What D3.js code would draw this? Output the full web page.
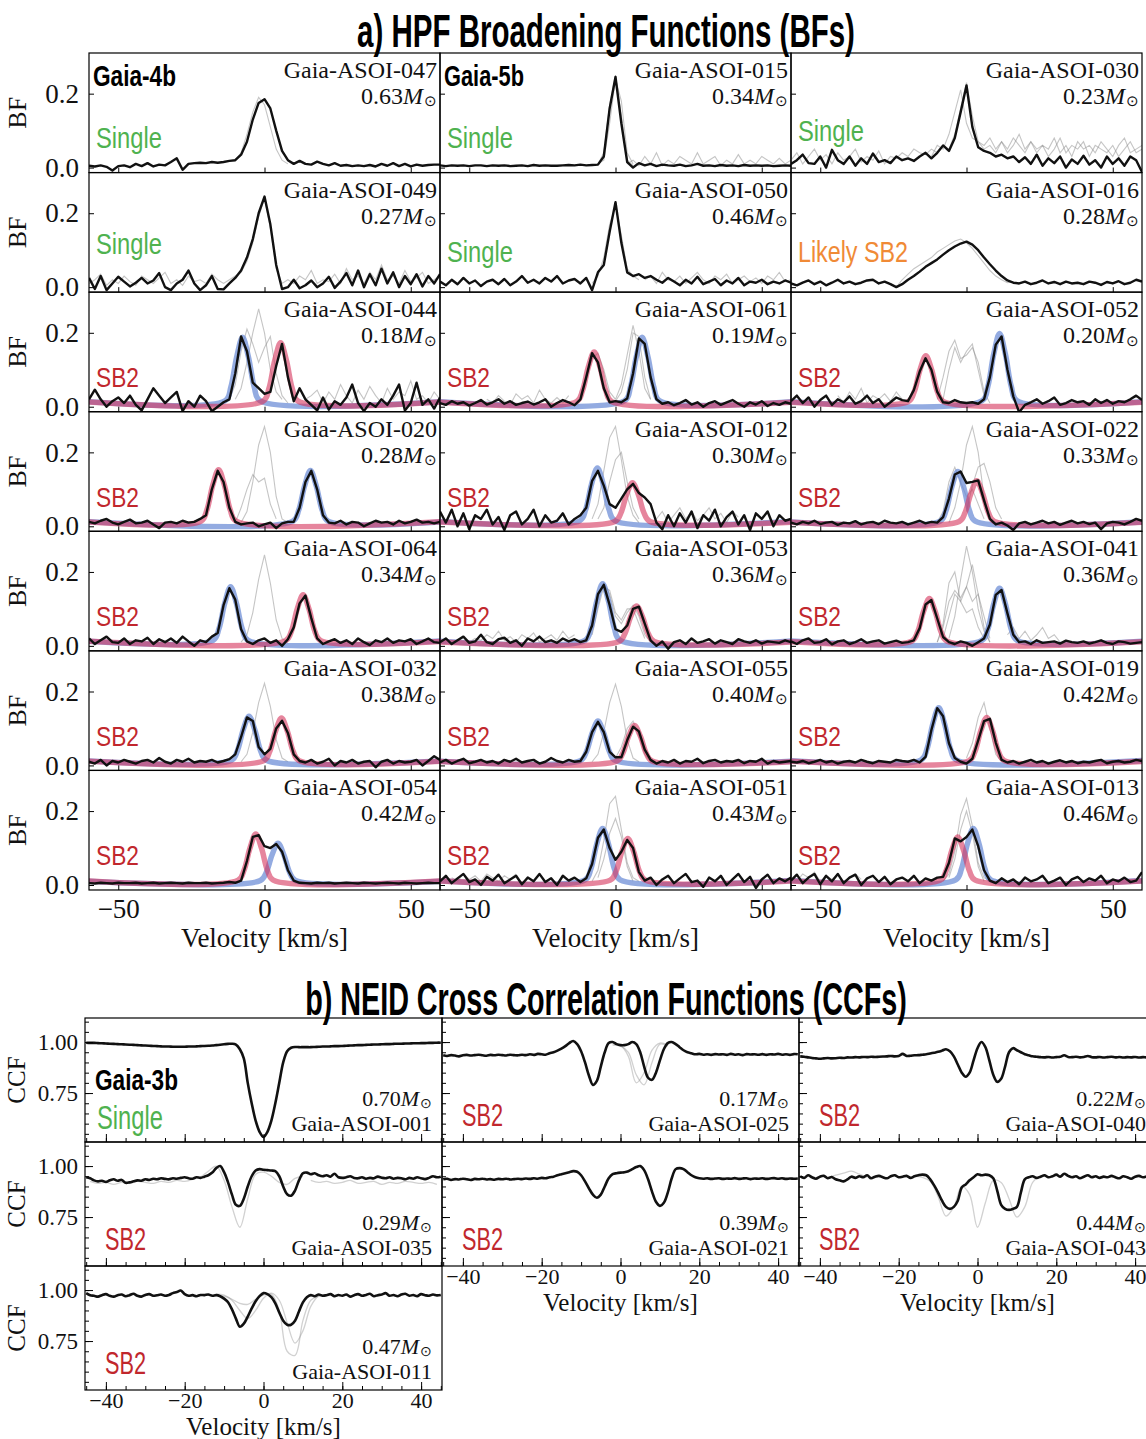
<!DOCTYPE html>
<html>
<head>
<meta charset="utf-8">
<script src="https://cdn.jsdelivr.net/npm/d3@7"></script>
<style>
  html, body { margin: 0; padding: 0; background: #fff; }
  svg { display: block; }
</style>
</head>
<body>
<svg id="fig" width="1146" height="1439"></svg>
<script>
// ===================== a) HPF broadening functions =====================
// panels in reading order (3 columns x 7 rows)
const bfTargets = [
  "Gaia-ASOI-047", "Gaia-ASOI-015", "Gaia-ASOI-030",
  "Gaia-ASOI-049", "Gaia-ASOI-050", "Gaia-ASOI-016",
  "Gaia-ASOI-044", "Gaia-ASOI-061", "Gaia-ASOI-052",
  "Gaia-ASOI-020", "Gaia-ASOI-012", "Gaia-ASOI-022",
  "Gaia-ASOI-064", "Gaia-ASOI-053", "Gaia-ASOI-041",
  "Gaia-ASOI-032", "Gaia-ASOI-055", "Gaia-ASOI-019",
  "Gaia-ASOI-054", "Gaia-ASOI-051", "Gaia-ASOI-013"
];
const bfMasses = [
  "0.63", "0.34", "0.23",
  "0.27", "0.46", "0.28",
  "0.18", "0.19", "0.20",
  "0.28", "0.30", "0.33",
  "0.34", "0.36", "0.36",
  "0.38", "0.40", "0.42",
  "0.42", "0.43", "0.46"
];
const bfClasses = [
  "Single", "Single", "Single",
  "Single", "Single", "Likely SB2",
  "SB2", "SB2", "SB2",
  "SB2", "SB2", "SB2",
  "SB2", "SB2", "SB2",
  "SB2", "SB2", "SB2",
  "SB2", "SB2", "SB2"
];
const bfHosts = ["Gaia-4b", "Gaia-5b", "", "", "", "", "", "", "", "", "", "", "", "", "", "", "", "", "", "", ""];

// velocity sampling of the combined BFs (km/s)
const bfVelocityStart = -60;
const bfVelocityStep = 2;

// combined broadening function of each target, one value per velocity sample
const bfObserved = [
  [.005,.003,.006,.002,-.008,.004,.006,.001,.010,.004, .012,.003,.008,.006,.015,.025,-.006,.010,.012,.013,
   .012,.015,.013,.015,.018,.020,.035,.070,.130,.175, .185,.160,.100,.045,.020,.010,.018,.010,.008,.016,
   .010,.006,.012,.005,.007,.004,.006,.004,.007,.003, .010,.005,.012,.004,.010,.003,.008,.005,.007,.008, .008],
  [.006,.004,.006,.005,.006,.004,.006,.006,.004,.006, .005,.006,.004,.005,.006,.004,.007,.005,.006,.005,
   .005,.006,.007,.006,.008,.006,.007,.008,.030,.160, .245,.120,.015,.000,.012,.006,.010,.004,.008,.006,
   .005,.008,.004,.006,.010,.005,.006,.004,.007,.005, .006,.004,.007,.005,.006,.005,.006,.004,.005,.006, .005],
  [.010,.020,.035,.012,.010,.030,.000,.048,.020,.010, .030,.005,.025,.010,.038,.015,.020,.012,.030,.020,
   .025,.018,.030,.040,.025,.040,.060,.045,.080,.150, .222,.110,.055,.045,.040,.030,.035,.025,.030,.015,
   .028,.010,.035,.005,.025,.012,.030,.000,.022,.010, .032,.008,.020,.000,.030,.010,.025,.005,.030,.020, -.012],
  [.025,-.005,.030,-.008,.010,.028,.015,.002,.012,.025, .010,.018,.038,.000,-.008,.010,.020,.045,.010,-.008,
   .005,.030,-.005,-.006,.010,.025,.045,.080,.130,.200, .245,.170,.060,-.005,.000,.020,-.003,.005,.018,.000,
   .010,.028,-.002,.015,.038,.005,.045,.000,.035,.005, .050,.010,.040,.000,.030,.008,.035,.002,.030,.010, .035],
  [.015,.005,.020,.008,.025,.010,.018,.003,.015,.020, .008,.022,.005,.015,.030,.012,.020,.010,.025,.015,
   .030,.010,.018,.022,.010,.025,-.008,.040,.060,.150, .230,.120,.040,.030,.035,.025,.030,.020,.012,.025,
   .015,.005,.020,.010,.028,.008,.015,.022,.005,.018, .010,.025,.005,.015,.012,.020,.008,.015,.010,.018, .012],
  [.010,.005,.012,.018,.008,.015,.005,.012,.020,.010, .015,.008,.012,.018,.020,.010,.015,.008,.000,.008,
   .020,.030,.042,.055,.065,.075,.088,.100,.110,.118, .123,.115,.100,.080,.062,.045,.030,.018,.012,.010,
   .015,.008,.012,.018,.010,.014,.008,.015,.010,.012, .008,.015,.012,.006,.014,.010,.016,.008,.012,.020, .015],
  [.020,.046,.020,.000,.015,.025,.010,.030,.005,-.010, .020,.050,.030,.010,.025,.040,-.012,.015,.000,.030,
   .015,-.012,.000,.012,.020,.090,.190,.150,.065,.050, .035,.040,.110,.170,.080,.015,.050,.020,.005,-.010,
   .025,-.008,.015,.005,.025,.060,.010,-.012,.010,.000, .020,.005,.030,.060,-.010,.010,.065,.005,.020,-.005, .025],
  [.010,.005,.015,.008,.012,.003,.010,.018,.006,.012, .020,.008,.015,.005,.010,.014,.006,.012,.020,.000,
   .010,.018,.012,.004,.020,.080,.145,.120,.050,.012, .015,.012,.022,.090,.185,.170,.080,.020,.008,.012,
   .004,.010,.018,.006,.012,.000,.010,.015,.005,.012, .018,.008,.000,.012,.006,.015,.002,.010,.005,.012, .008],
  [.015,.030,.010,.025,.000,.018,.030,.005,.020,.012, .028,.008,.015,.030,.010,.020,.000,.012,.025,.018,
   .015,.045,.095,.131,.100,.040,.012,.010,.018,.012, .010,.012,.008,.020,.080,.168,.190,.100,.028,-.015,
   .005,.012,.020,.008,.015,.025,.005,.010,.018,.012, .015,.005,.020,.010,.018,.008,.015,.012,.020,.030, .018],
  [.012,.008,.015,.020,.010,.005,.012,.018,.008,.010, .015,.005,-.005,.010,.012,.008,.015,.010,.012,.020,
   .030,.100,.150,.120,.050,.012,.005,.008,.010,.000, .005,.010,-.005,.008,.012,.012,.050,.120,.150,.100,
   .030,.010,.008,.015,.005,.012,.010,.000,.008,.015, .010,.012,.005,.015,.008,.012,.018,.010,.012,.008, .012],
  [.040,.010,.045,.000,.035,-.008,.030,.020,.045,.005, .025,-.010,.030,.040,.005,.020,.045,.000,.030,.010,
   .015,.035,.005,.020,.030,.050,.123,.150,.110,.060, .050,.075,.100,.115,.090,.078,.060,.010,-.008,.030,
   .000,.035,.010,.040,-.005,.030,.015,.045,.000,.025, .040,.005,.030,-.010,.035,.020,.040,.000,.030,.015, .020],
  [.010,.005,.012,.008,.015,.006,.010,.012,.004,.010, .008,.014,.005,.010,.012,.006,.015,.010,.008,.012,
   .005,.010,.015,.008,.012,.010,.025,.075,.140,.148, .117,.120,.124,.070,.020,.005,.010,.002,-.010,.008,
   .012,.005,.010,.015,.008,.012,.004,.010,.015,.008, .012,.006,.010,-.008,.008,.012,.010,.005,.012,.020, .015],
  [.020,.005,.015,.025,.010,.008,.020,.005,.015,.012, .022,.005,.018,.010,.020,.008,.025,.012,.000,.015,
   .010,.025,.035,.110,.156,.125,.045,.012,.005,.015, .020,.008,.015,.000,.018,.050,.115,.136,.075,.020,
   .005,.012,.018,.008,.015,.005,.020,.010,.002,.015, .010,.020,.008,.015,.012,.018,.005,.012,.020,.010, .008],
  [.010,.020,.005,.015,.025,.008,.012,.030,.010,.005, .018,.022,.008,.015,.000,.020,.012,.025,.010,.015,
   .008,.020,.012,.018,.010,.015,.055,.140,.165,.110, .045,.038,.055,.100,.106,.060,.015,.000,.012,-.008,
   .010,.015,.005,.020,.008,.012,.018,.006,.015,.010, .005,.018,.012,.008,.015,.006,.012,.010,.008,.015, .010],
  [.012,.005,.015,.020,.008,.010,.018,.004,.012,.015, .005,.010,.018,.008,.012,.015,.006,.010,.014,.008,
   .010,.015,.048,.112,.124,.074,.024,.010,.005,.012, .008,.000,.010,.020,.058,.138,.151,.088,.030,.010,
   .012,.005,.015,.008,.010,.012,.006,.014,.010,.008, .012,.006,.010,.015,.008,.005,.012,.010,.006,.008, .010],
  [.010,.005,.015,.000,.012,.008,.015,.010,.005,.012, .015,.008,.020,.010,.005,.015,.010,.018,.008,.012,
   .010,.015,.008,.012,.017,.030,.077,.130,.120,.050, .030,.045,.100,.121,.088,.030,.012,.008,.015,.005,
   .010,.018,.000,.012,.008,.015,.005,.010,.012,-.005, .010,.015,.005,.012,.008,.010,.015,.000,.012,.025, .015],
  [.008,.015,.005,.012,.018,.006,.010,.015,.008,.012, .005,.015,.010,.018,.008,.012,.015,.005,.010,.020,
   .012,.008,.015,.010,.012,.037,.090,.118,.090,.037, .022,.022,.068,.105,.092,.043,.015,.005,.012,.008,
   .015,.005,.012,.010,.018,.006,.012,.015,.008,.012, .010,.015,.006,.012,.010,.018,.005,.012,.008,.010, .012],
  [.010,.008,.012,.006,.010,.015,.008,.012,.005,.010, .012,.008,.015,.010,.006,.012,.010,.008,.015,.012,
   .010,.015,.008,.023,.096,.155,.133,.060,.020,.010, .005,.018,.068,.120,.126,.062,.015,.008,.012,.005,
   .010,.015,.008,.012,.005,.010,.014,.008,.012,.006, .010,.008,.012,.015,.006,.010,.012,.008,.010,.015, .012],
  [.005,.004,.006,.005,.004,.006,.005,.005,.006,.004, .005,.006,.004,.005,.006,.005,.004,.006,.005,.005,
   .006,.004,.005,.006,.008,.006,.012,.065,.130,.135, .105,.100,.111,.090,.040,.012,.006,.005,.004,.006,
   .005,.006,.004,.005,.006,.005,.004,.006,.005,.004, .005,.006,.005,.004,.006,.005,.004,.005,.006,.005, .005],
  [.010,.025,.005,.018,.030,.008,.015,.000,.022,.012, .028,.005,.015,.025,.002,.020,.010,.030,.008,.018,
   .000,.025,.012,.020,.008,.018,.057,.128,.150,.100, .068,.090,.122,.100,.035,.012,.020,.000,.015,.025,
   .005,.018,.030,.008,.012,-.005,.020,.010,.025,.000, .015,.030,.008,.022,-.008,.015,.028,.005,.018,.010, .020],
  [.012,.028,.005,.020,.030,.002,.025,.010,.030,.005, .020,.028,.000,.018,.025,.008,.022,.002,.015,.020,
   .010,.025,.005,.018,.012,.020,.022,.060,.126,.118, .130,.150,.105,.040,.012,.005,.018,.008,.015,.002,
   .020,.010,.015,.025,.005,.012,.020,.000,.015,.022, .008,.018,.012,.025,.005,.015,.010,.020,.008,.012, .035]
];

// fitted components: centre c (km/s), profile sampled every 2 km/s from c-6 to c+6
const bfFitBlue = [
  null, null, null, null, null, null,
  { c: -7.5, y: [.016,.053,.135,.188,.135,.053,.016] },
  { c: 9.1,  y: [.016,.053,.135,.188,.135,.053,.016] },
  { c: 11.3, y: [.016,.055,.142,.198,.142,.055,.016] },
  { c: 15.7, y: [.014,.044,.109,.151,.109,.044,.014] },
  { c: -6.2, y: [.015,.045,.114,.158,.114,.045,.015] },
  { c: -3.0, y: [.014,.043,.107,.148,.107,.043,.014] },
  { c: -11.6, y: [.015,.046,.115,.160,.115,.046,.015] },
  { c: -4.4, y: [.015,.048,.121,.168,.121,.048,.015] },
  { c: 11.3, y: [.015,.045,.113,.156,.113,.045,.015] },
  { c: -5.3, y: [.014,.039,.096,.133,.096,.039,.014] },
  { c: -6.0, y: [.013,.036,.087,.120,.087,.036,.013] },
  { c: -9.5, y: [.015,.045,.113,.156,.113,.045,.015] },
  { c: 4.6,  y: [.012,.034,.082,.113,.082,.034,.012] },
  { c: -4.4, y: [.014,.044,.111,.153,.111,.044,.014] },
  { c: 2.3,  y: [.014,.044,.111,.153,.111,.044,.014] }
];
const bfFitRed = [
  null, null, null, null, null, null,
  { c: 5.5,  y: [.015,.049,.125,.173,.125,.049,.015] },
  { c: -7.3, y: [.014,.043,.107,.148,.107,.043,.014] },
  { c: -13.9, y: [.014,.040,.100,.138,.100,.040,.014] },
  { c: -15.7, y: [.014,.044,.111,.153,.111,.044,.014] },
  { c: 5.8,  y: [.013,.035,.086,.118,.086,.035,.013] },
  { c: 3.5,  y: [.013,.037,.089,.123,.089,.037,.013] },
  { c: 13.2, y: [.014,.040,.100,.138,.100,.040,.014] },
  { c: 7.2,  y: [.012,.033,.079,.108,.079,.033,.012] },
  { c: -12.7, y: [.013,.038,.093,.128,.093,.038,.013] },
  { c: 5.8,  y: [.013,.038,.093,.128,.093,.038,.013] },
  { c: 6.5,  y: [.012,.033,.079,.108,.079,.033,.012] },
  { c: 6.9,  y: [.013,.038,.094,.130,.094,.038,.013] },
  { c: -3.0, y: [.013,.040,.099,.138,.099,.040,.013] },
  { c: 4.2,  y: [.013,.037,.091,.126,.091,.037,.013] },
  { c: -3.0, y: [.013,.038,.094,.130,.094,.038,.013] }
];

// single-epoch BFs (v0 = first velocity, samples every 2 km/s)
const bfEpochs = [
  [{ v0: -10, y: [.02,.04,.09,.15,.19,.17,.11,.05,.02,.01] }],
  [{ v0: -6, y: [.01,.04,.17,.25,.14,.02,.005] },
   { v0: -6, y: [.01,.02,.12,.24,.18,.04,.01] },
   { v0: 4, y: [.01,.02,.005,.03,.01,.04,.005,.02,.01,.03,.02,.01,.04,.01,.02,.03,.005,.02,.01,.035,.01,.02,.01,.03,.02,.01,.025,.01,.02] }],
  [{ v0: -12, y: [.03,.06,.05,.09,.15,.21,.12,.08,.07,.05,.06,.04,.07,.05,.08,.06,.04,.07,.05,.06,.03,.05,.08,.04,.06,.05,.07,.03,.06,.05,.04,.06,.03,.05,.07,.04,.05] },
   { v0: -60, y: [.02,.04,.01,.03,.05,.02,.035,.01,.04,.02,.03,.05,.015,.03,.02,.045,.01,.03,.025,.04,.03,.05,.04,.035,.05,.04,.06,.05,.09,.16,
                  .23,.14,.07,.06,.08,.05,.07,.04,.06,.09,.05,.07,.04,.06,.05,.08,.04,.06,.03,.07,.05,.06,.04,.07,.05,.03,.06,.08,.04,.05,.06] }],
  [{ v0: -60, y: [.01,.02,.035,.005,.02,.01,.03,.015,.005,.03,.02,.01,.025,.04,.01,.02,.005,.03,.015,.02,.01,.035,.02,.01,.02,.03,.04,.07,.12,.19,
                  .24,.16,.05,.01,.02,.01,.03,.02,.045,.01,.02,.015,.035,.01,.05,.02,.03,.01,.04,.02,.06,.02,.03,.01,.045,.015,.025,.04,.01,.02,.03] }],
  [{ v0: -8, y: [.01,.03,.08,.17,.22,.14,.05,.03,.02] },
   { v0: 10, y: [.02,.03,.01,.04,.02,.015,.03,.01,.025,.04,.02,.01,.03,.02,.035,.01,.02,.03,.015,.025,.01,.03,.02,.04,.015,.02] }],
  [{ v0: -26, y: [.01,.0,.02,.035,.05,.06,.07,.08,.095,.105,.115,.125,.13,.12,.105,.085,.065,.045,.03,.02,.012,.015] }],
  [{ v0: -10, y: [.02,.05,.12,.2,.265,.2,.1,.04,.02] },
   { v0: -12, y: [.02,.06,.15,.21,.17,.12,.16,.19,.09,.03,.01] },
   { v0: 14, y: [.02,.03,.045,.01,.04,.02,.06,.03,.01,.045,.02,.055,.03,.01,.05,.02,.04,.03,.07,.02,.03,.01,.04,.02] }],
  [{ v0: 0, y: [.02,.06,.14,.22,.15,.05,.02] },
   { v0: 0, y: [.015,.04,.1,.2,.19,.08,.02] },
   { v0: -12, y: [.03,.08,.13,.145,.1,.04,.02] },
   { v0: -44, y: [.02,.01,.03,.015,.005,.035,.02,.03,.01,.045,.02,.01,.025,.01,.03] }],
  [{ v0: -10, y: [.02,.08,.15,.18,.13,.14,.16,.12,.04,.01] },
   { v0: -8, y: [.02,.1,.16,.12,.15,.17,.1,.03] },
   { v0: -44, y: [.03,.01,.04,.02,.05,.01,.03,.02,.035,.015,.04,.02] }],
  [{ v0: -8, y: [.01,.04,.12,.22,.27,.2,.08,.02,.01] },
   { v0: -10, y: [.01,.05,.10,.14,.12,.13,.06,.02] }],
  [{ v0: -8, y: [.02,.06,.15,.24,.27,.18,.08,.03,.01] },
   { v0: -6, y: [.02,.05,.12,.18,.2,.12,.05,.02] },
   { v0: 14, y: [.02,.04,.01,.03,.05,.02,.04,.015,.03,.05,.02,.035,.01,.04,.025] }],
  [{ v0: -6, y: [.01,.05,.12,.22,.27,.2,.08,.02] },
   { v0: -10, y: [.01,.04,.12,.16,.12,.08,.1,.06,.02] },
   { v0: 0, y: [.04,.11,.16,.17,.12,.05,.02] }],
  [{ v0: -8, y: [.01,.03,.09,.18,.246,.17,.07,.02,.01] }],
  [{ v0: -10, y: [.02,.06,.13,.17,.14,.08,.06,.09,.11,.08,.03,.01] },
   { v0: -8, y: [.03,.1,.16,.15,.09,.07,.1,.1,.06,.02] },
   { v0: -50, y: [.01,.02,.015,.03,.02,.04,.015,.025,.01,.03,.02,.035,.01,.02,.03,.015,.04,.02,.03] }],
  [{ v0: -6, y: [.02,.08,.18,.27,.2,.1,.04,.01] },
   { v0: -10, y: [.01,.05,.12,.15,.13,.16,.22,.14,.05,.01] },
   { v0: -8, y: [.02,.08,.14,.12,.16,.12,.14,.08,.02] },
   { v0: -10, y: [.01,.06,.17,.2,.12,.09,.1,.05,.02] },
   { v0: 14, y: [.03,.05,.02,.04,.015,.03,.05,.02,.03,.01] }],
  [{ v0: -8, y: [.01,.03,.09,.17,.222,.16,.07,.02,.01] }],
  [{ v0: -8, y: [.01,.03,.09,.17,.22,.16,.07,.02,.01] },
   { v0: 0, y: [.02,.05,.1,.12,.08,.03,.01] }],
  [{ v0: 0, y: [.02,.06,.13,.17,.1,.03,.01] }],
  [],
  [{ v0: -8, y: [.01,.04,.12,.22,.24,.15,.06,.02,.01] },
   { v0: -6, y: [.02,.07,.14,.18,.13,.05,.01] },
   { v0: -56, y: [.02,.01,.03,.015,.025,.01,.03,.02,.01,.025,.015,.03] }],
  [{ v0: -8, y: [.01,.03,.09,.19,.234,.16,.06,.02,.01] },
   { v0: -6, y: [.02,.07,.15,.2,.14,.05,.01] },
   { v0: -60, y: [.02,.01,.03,.02,.035,.01,.025,.015,.03,.01,.02,.03,.015] }]
];

const bfTicksX = [-50, 0, 50];
const bfTicksY = [0, 0.2];

// ===================== b) NEID cross correlation functions =====================
const ccfTargets = ["Gaia-ASOI-001", "Gaia-ASOI-035", "Gaia-ASOI-011", "Gaia-ASOI-025", "Gaia-ASOI-021", "Gaia-ASOI-040", "Gaia-ASOI-043"];
const ccfMasses = ["0.70", "0.29", "0.47", "0.17", "0.39", "0.22", "0.44"];
const ccfClasses = ["Single", "SB2", "SB2", "SB2", "SB2", "SB2", "SB2"];
const ccfHosts = ["Gaia-3b", "", "", "", "", "", ""];

const ccfVelocityStart = -45;
const ccfVelocityStep = 1;

const ccfObserved = [
  [.997,.996,.996,.995,.994,.993,.992,.991,.990,.989, .988,.987,.986,.985,.984,.983,.982,.981,.980,.979,
   .978,.978,.977,.977,.977,.977,.978,.978,.979,.980, .981,.982,.983,.985,.987,.989,.991,.992,.988,.965,
   .920,.800,.700,.615,.560,.535,.560,.615,.700,.800, .900,.955,.972,.976,.975,.975,.975,.975,.976,.977,
   .978,.978,.979,.980,.980,.981,.982,.983,.984,.985, .985,.986,.987,.988,.988,.989,.990,.990,.991,.992,
   .992,.993,.993,.994,.994,.995,.995,.996,.996,.997, .997],
  [.945,.940,.930,.925,.928,.922,.930,.935,.928,.932, .918,.920,.925,.930,.928,.935,.932,.938,.935,.940,
   .937,.935,.940,.938,.942,.945,.940,.938,.945,.942, .948,.955,.968,.990,1.000,.970,.920,.860,.810,.805,
   .840,.900,.950,.978,.985,.982,.980,.978,.975,.950, .900,.862,.855,.880,.930,.965,.968,.960,.965,.955,
   .950,.955,.948,.962,.945,.942,.945,.950,.942,.940, .945,.938,.942,.940,.948,.943,.940,.945,.938,.942,
   .940,.935,.942,.938,.945,.940,.936,.942,.950,.945, .948],
  [.985,.975,.972,.968,.975,.980,.972,.968,.975,.978, .970,.975,.982,.972,.968,.976,.980,.972,.975,.978,
   .972,.976,.985,.990,.998,.980,.972,.975,.970,.976, .975,.978,.972,.975,.970,.958,.940,.905,.860,.820,
   .835,.870,.910,.945,.970,.985,.980,.965,.935,.890, .850,.830,.830,.850,.895,.940,.965,.975,.970,.978,
   .972,.975,.980,.970,.976,.972,.978,.968,.975,.980, .972,.976,.982,.970,.975,.978,.985,.972,.976,.970,
   .978,.982,.972,.976,.970,.980,.975,.972,.978,.974, .976],
  [.935,.932,.936,.934,.930,.935,.937,.934,.936,.938, .935,.933,.937,.935,.938,.936,.934,.938,.936,.935,
   .938,.936,.940,.937,.942,.940,.938,.945,.950,.958, .968,.980,.995,1.005,.990,.955,.900,.835,.790,.810,
   .880,.950,.995,1.000,.990,.985,.985,.990,1.000,.990, .950,.880,.825,.815,.850,.910,.965,.995,1.000,.990,
   .975,.960,.950,.945,.940,.942,.938,.940,.937,.941, .939,.940,.937,.942,.938,.940,.936,.941,.939,.940,
   .938,.941,.937,.940,.939,.942,.938,.940,.937,.941, .940],
  [.935,.938,.932,.936,.934,.938,.935,.932,.937,.935, .938,.934,.936,.933,.937,.935,.938,.934,.936,.938,
   .936,.939,.937,.940,.938,.942,.940,.945,.948,.955, .960,.965,.970,.975,.972,.955,.925,.890,.860,.845,
   .860,.900,.940,.960,.965,.968,.970,.975,.985,.995, 1.000,.980,.935,.875,.825,.805,.820,.870,.940,.985,
   .990,.985,.970,.955,.945,.940,.938,.940,.937,.939, .940,.937,.939,.938,.941,.937,.939,.940,.936,.939,
   .938,.940,.937,.939,.941,.938,.940,.937,.939,.938, .939],
  [.930,.928,.925,.922,.920,.918,.920,.922,.920,.921, .923,.922,.925,.924,.926,.925,.927,.926,.928,.927,
   .928,.929,.930,.932,.930,.932,.942,.932,.933,.935, .936,.938,.940,.944,.948,.952,.958,.965,.955,.930,
   .890,.850,.830,.850,.910,.970,1.000,.975,.910,.840, .805,.820,.880,.950,.970,.960,.950,.940,.935,.930,
   .928,.926,.925,.927,.924,.926,.928,.935,.927,.926, .928,.925,.927,.932,.926,.925,.927,.924,.926,.928,
   .925,.927,.924,.926,.925,.927,.924,.926,.925,.927, .926],
  [.950,.942,.955,.945,.938,.948,.952,.940,.946,.935, .930,.925,.935,.948,.942,.950,.945,.955,.940,.948,
   .952,.945,.940,.950,.955,.945,.948,.952,.942,.950, .955,.958,.955,.935,.905,.870,.830,.800,.790,.800,
   .830,.895,.910,.930,.945,.960,.955,.958,.955,.940, .880,.810,.790,.785,.790,.800,.870,.935,.945,.950,
   .942,.948,.955,.945,.950,.958,.948,.962,.952,.945, .950,.940,.948,.955,.945,.950,.942,.948,.945,.952,
   .945,.940,.950,.945,.938,.948,.952,.945,.950,.955, .948]
];

// single-epoch CCFs (v0 = first velocity, samples every 2 km/s)
const ccfEpochs = [
  [],
  [{ v0: -16, y: [.945,.975,1.0,.93,.80,.70,.84,.96,.97,.95,.92,.91,.94,.95] },
   { v0: -44, y: [.925,.915,.92,.91,.92,.915,.925,.92,.915,.925,.92,.93,.925,.935] },
   { v0: 12, y: [.93,.92,.925,.915,.92,.93,.915,.92,.925,.91,.92,.915,.925,.92,.915,.92,.91] }],
  [{ v0: -12, y: [.975,.97,.955,.935,.93,.955,.975,.98,.90,.70,.68,.85,.95,.97,.975] },
   { v0: -12, y: [.98,.975,.95,.90,.86,.90,.96,.985,.95,.84,.74,.80,.92,.97,.975] }],
  [{ v0: -2, y: [.99,.985,.93,.80,.85,.96,.995,.985] },
   { v0: -2, y: [.985,.98,.95,.84,.79,.90,.99,.98] }],
  [],
  [],
  [{ v0: -16, y: [.95,.945,.925,.85,.755,.80,.90,.86,.70,.82,.93,.92,.84,.75,.80,.92,.95,.945] },
   { v0: -38, y: [.945,.955,.965,.975,.96,.945] }]
];

const ccfTicksX = [-40, -20, 0, 20, 40];
const ccfTicksY = [0.75, 1.00];

// ===================== drawing =====================
const svg = d3.select("#fig");
const defs = svg.append("defs");

const SERIF = "'Liberation Serif', 'Times New Roman', Times, serif";
const HEAVY = "'Liberation Sans', Arial, sans-serif";
const classColor = { "Single": "#4fb24f", "SB2": "#c1272d", "Likely SB2": "#f08a36" };
const BLUE = "rgb(105,138,214)", RED = "rgb(214,52,92)";

function addClip(id, x, y, w, h) {
  defs.append("clipPath").attr("id", id)
    .append("rect").attr("x", x).attr("y", y).attr("width", w).attr("height", h);
}

// condensed display text: drawn at its natural size, then squeezed horizontally to a set width
function condensedText(parent, x, y, str, size, width, opts) {
  const o = Object.assign({ anchor: "start", weight: "normal", color: "#000" }, opts || {});
  const g = parent.append("g");
  const t = g.append("text").attr("x", 0).attr("y", 0)
    .attr("text-anchor", o.anchor).attr("font-family", HEAVY)
    .attr("font-weight", o.weight).attr("font-size", size).attr("fill", o.color).text(str);
  const natural = t.node().getComputedTextLength() || width;
  g.attr("transform", `translate(${x},${y}) scale(${width / natural},1)`);
  return g;
}

function massText(g, x, y, mass, size) {
  const t = g.append("text").attr("x", x).attr("y", y)
    .attr("text-anchor", "end").attr("font-family", SERIF).attr("font-size", size).attr("fill", "#111");
  t.append("tspan").text(mass);
  t.append("tspan").attr("font-style", "italic").text("M");
  t.append("tspan").attr("font-size", size * 0.64).attr("dx", 1).attr("dy", size * 0.1).text("\u2299");
}

function styleAxis(g, size) {
  g.select(".domain").remove();
  g.selectAll(".tick line").attr("stroke", "#000").attr("stroke-width", 1);
  g.selectAll(".tick text").filter(function () { return !this.textContent; }).remove();
  g.selectAll(".tick text").attr("font-family", SERIF).attr("font-size", size).attr("fill", "#111");
}

// ---------- titles ----------
condensedText(svg, 606, 47, "a) HPF Broadening Functions (BFs)", 47, 498, { anchor: "middle", weight: "bold" });
condensedText(svg, 606, 1015, "b) NEID Cross Correlation Functions (CCFs)", 47, 602, { anchor: "middle", weight: "bold" });

// ---------- a) BF grid ----------
const bfLeft = 89, bfColW = 351, bfTop = 53, bfRowH = 119.57;
const bfNRows = 7, bfNCols = 3;
const bfLabelDrop = { 2: 88, 3: 81, 4: 89, 5: 89 };
const bfLabelWidth = { "Single": 66, "SB2": 43, "Likely SB2": 110 };
const bfLabelSize = { "Single": 30, "SB2": 28, "Likely SB2": 30 };
const bfHostWidth = { "Gaia-4b": 83, "Gaia-5b": 80 };

bfTargets.forEach((name, i) => {
  const col = i % bfNCols, row = Math.floor(i / bfNCols);
  const x0 = bfLeft + col * bfColW, y0 = bfTop + row * bfRowH;
  const x = d3.scaleLinear().domain([-60, 60]).range([x0, x0 + bfColW]);
  const y = d3.scaleLinear().domain([-0.0135, 0.31]).range([y0 + bfRowH, y0]);
  const clipId = "bfclip" + i;
  addClip(clipId, x0, y0, bfColW, bfRowH);
  const g = svg.append("g");
  const plot = g.append("g").attr("clip-path", `url(#${clipId})`);

  const line = d3.line().x(d => x(d[0])).y(d => y(d[1]));

  // individual epochs
  bfEpochs[i].forEach(ep => {
    const pts = ep.y.map((v, j) => [ep.v0 + j * 2, v]);
    plot.append("path").attr("d", line(pts)).attr("fill", "none")
      .attr("stroke", "#8c8c8c").attr("stroke-opacity", 0.5).attr("stroke-width", 1.1);
  });

  // two-component fit
  const fitLine = d3.line().x(d => x(d[0])).y(d => y(d[1])).curve(d3.curveCatmullRom);
  [[bfFitBlue[i], BLUE, 0.72], [bfFitRed[i], RED, 0.6]].forEach(([fit, color, op]) => {
    if (!fit) return;
    const pts = fit.y.map((v, j) => [fit.c + 2 * (j - 3), v]);
    const full = [[-64, fit.y[0]], ...pts, [64, fit.y[fit.y.length - 1]]];
    plot.append("path").attr("d", fitLine(full)).attr("fill", "none")
      .attr("stroke", color).attr("stroke-opacity", op).attr("stroke-width", 5.5)
      .attr("stroke-linejoin", "round").attr("stroke-linecap", "round");
  });

  // combined BF
  const obs = bfObserved[i].map((v, j) => [bfVelocityStart + j * bfVelocityStep, v]);
  plot.append("path").attr("d", line(obs)).attr("fill", "none")
    .attr("stroke", "#111").attr("stroke-width", 2.4).attr("stroke-linejoin", "round");

  // frame
  g.append("rect").attr("x", x0).attr("y", y0).attr("width", bfColW).attr("height", bfRowH)
    .attr("fill", "none").attr("stroke", "#000").attr("stroke-width", 1.2);

  // axes (inward ticks)
  const ay = g.append("g").attr("transform", `translate(${x0},0)`)
    .call(d3.axisLeft(y).tickValues(bfTicksY).tickSize(-5).tickPadding(10)
      .tickFormat(col === 0 ? d3.format(".1f") : () => ""));
  styleAxis(ay, 27);
  const ax = g.append("g").attr("transform", `translate(0,${y0 + bfRowH})`)
    .call(d3.axisBottom(x).tickValues(bfTicksX).tickSize(-5).tickPadding(9)
      .tickFormat(row === bfNRows - 1 ? d3.format("d") : () => ""));
  styleAxis(ax, 27);

  // labels
  g.append("text").attr("x", x0 + bfColW - 3).attr("y", y0 + 25).attr("text-anchor", "end")
    .attr("font-family", SERIF).attr("font-size", 24).attr("fill", "#111").text(name);
  massText(g, x0 + bfColW - 3, y0 + 51, bfMasses[i], 24);
  if (bfHosts[i]) {
    condensedText(g, x0 + 4, y0 + 33, bfHosts[i], 29, bfHostWidth[bfHosts[i]], { weight: "bold" });
  }
  const drop = bfLabelDrop[i] !== undefined ? bfLabelDrop[i] : 95;
  const cls = bfClasses[i];
  condensedText(g, x0 + 7, y0 + drop, cls, bfLabelSize[cls], bfLabelWidth[cls], { color: classColor[cls] });

  if (col === 0) {
    g.append("text").attr("transform", `translate(26,${y0 + bfRowH / 2}) rotate(-90)`)
      .attr("text-anchor", "middle").attr("font-family", SERIF).attr("font-size", 26)
      .attr("fill", "#111").text("BF");
  }
  if (row === bfNRows - 1) {
    g.append("text").attr("x", x0 + bfColW / 2).attr("y", y0 + bfRowH + 57)
      .attr("text-anchor", "middle").attr("font-family", SERIF).attr("font-size", 27)
      .attr("fill", "#111").text("Velocity [km/s]");
  }
});

// ---------- b) CCF grid ----------
const ccfLeft = 85, ccfColW = 357, ccfTop = 1018, ccfRowH = 124;
// column / row of each CCF panel
const ccfCell = [[0, 0], [0, 1], [0, 2], [1, 0], [1, 1], [2, 0], [2, 1]];
const ccfLastRow = [2, 1, 1];
const ccfLabelWidth = { "Single": 66, "SB2": 41 };
const ccfLabelSize = { "Single": 33, "SB2": 32 };

ccfTargets.forEach((name, i) => {
  const [col, row] = ccfCell[i];
  const x0 = ccfLeft + col * ccfColW, y0 = ccfTop + row * ccfRowH;
  const x = d3.scaleLinear().domain([-45.3, 45.3]).range([x0, x0 + ccfColW]);
  const y = d3.scaleLinear().domain([0.51, 1.118]).range([y0 + ccfRowH, y0]);
  const clipId = "ccfclip" + i;
  addClip(clipId, x0, y0, ccfColW, ccfRowH);
  const g = svg.append("g");
  const plot = g.append("g").attr("clip-path", `url(#${clipId})`);
  const smooth = d3.line().x(d => x(d[0])).y(d => y(d[1])).curve(d3.curveCatmullRom);

  ccfEpochs[i].forEach(ep => {
    const pts = ep.y.map((v, j) => [ep.v0 + j * 2, v]);
    plot.append("path").attr("d", smooth(pts)).attr("fill", "none")
      .attr("stroke", "#9a9a9a").attr("stroke-opacity", 0.45).attr("stroke-width", 1.3);
  });

  const obs = ccfObserved[i].map((v, j) => [ccfVelocityStart + j * ccfVelocityStep, v]);
  plot.append("path").attr("d", smooth(obs))
    .attr("fill", "none").attr("stroke", "#111").attr("stroke-width", 2.6).attr("stroke-linejoin", "round");

  g.append("rect").attr("x", x0).attr("y", y0).attr("width", ccfColW).attr("height", ccfRowH)
    .attr("fill", "none").attr("stroke", "#000").attr("stroke-width", 1.2);

  const isBottom = row === ccfLastRow[col];
  const ayMinor = g.append("g").attr("transform", `translate(${x0},0)`)
    .call(d3.axisLeft(y).tickValues(d3.range(0.55, 1.11, 0.05)).tickSize(-4).tickFormat(() => ""));
  styleAxis(ayMinor, 22);
  const ay = g.append("g").attr("transform", `translate(${x0},0)`)
    .call(d3.axisLeft(y).tickValues(ccfTicksY).tickSize(-8).tickPadding(7)
      .tickFormat(col === 0 ? d3.format(".2f") : () => ""));
  styleAxis(ay, 23);
  const axMinor = g.append("g").attr("transform", `translate(0,${y0 + ccfRowH})`)
    .call(d3.axisBottom(x).tickValues(d3.range(-45, 46, 5)).tickSize(-4).tickFormat(() => ""));
  styleAxis(axMinor, 22);
  const ax = g.append("g").attr("transform", `translate(0,${y0 + ccfRowH})`)
    .call(d3.axisBottom(x).tickValues(ccfTicksX).tickSize(-8).tickPadding(2)
      .tickFormat(isBottom ? d3.format("d") : () => ""));
  styleAxis(ax, 22);

  massText(g, x0 + ccfColW - 10, y0 + 88, ccfMasses[i], 22);
  g.append("text").attr("x", x0 + ccfColW - 10).attr("y", y0 + 113).attr("text-anchor", "end")
    .attr("font-family", SERIF).attr("font-size", 22).attr("fill", "#111").text(name);
  if (ccfHosts[i]) {
    condensedText(g, x0 + 10, y0 + 72, ccfHosts[i], 30, 83, { weight: "bold" });
  }
  const cls = ccfClasses[i];
  condensedText(g, x0 + (cls === "SB2" ? 20 : 12), y0 + (cls === "SB2" ? 108 : 111), cls, ccfLabelSize[cls],
    ccfLabelWidth[cls], { color: classColor[cls] });

  if (col === 0) {
    g.append("text").attr("transform", `translate(25,${y0 + ccfRowH / 2}) rotate(-90)`)
      .attr("text-anchor", "middle").attr("font-family", SERIF).attr("font-size", 25)
      .attr("fill", "#111").text("CCF");
  }
  if (isBottom) {
    g.append("text").attr("x", x0 + ccfColW / 2).attr("y", y0 + ccfRowH + 45)
      .attr("text-anchor", "middle").attr("font-family", SERIF).attr("font-size", 25)
      .attr("fill", "#111").text("Velocity [km/s]");
  }
});
</script>
</body>
</html>
